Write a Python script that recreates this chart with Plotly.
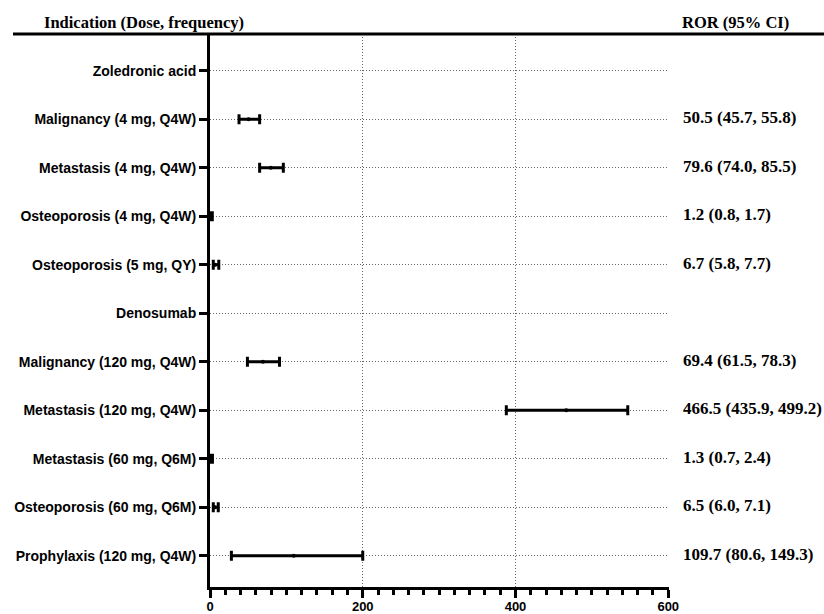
import plotly.graph_objects as go

# ---------------- data ----------------
categories = [
    "Zoledronic acid",
    "Malignancy (4 mg, Q4W)",
    "Metastasis (4 mg, Q4W)",
    "Osteoporosis (4 mg, Q4W)",
    "Osteoporosis (5 mg, QY)",
    "Denosumab",
    "Malignancy (120 mg, Q4W)",
    "Metastasis (120 mg, Q4W)",
    "Metastasis (60 mg, Q6M)",
    "Osteoporosis (60 mg, Q6M)",
    "Prophylaxis (120 mg, Q4W)",
]
ror = [None, 50.5, 79.6, 1.2, 6.7, None, 69.4, 466.5, 1.3, 6.5, 109.7]
bar_low = [None, 38.0, 65.0, 0.3, 4.3, None, 49.0, 388.0, 0.4, 4.3, 28.0]
bar_high = [None, 65.0, 96.0, 3.0, 11.5, None, 91.0, 547.0, 3.2, 10.8, 200.0]
ror_text = [
    "",
    "50.5 (45.7, 55.8)",
    "79.6 (74.0, 85.5)",
    "1.2 (0.8, 1.7)",
    "6.7 (5.8, 7.7)",
    "",
    "69.4 (61.5, 78.3)",
    "466.5 (435.9, 499.2)",
    "1.3 (0.7, 2.4)",
    "6.5 (6.0, 7.1)",
    "109.7 (80.6, 149.3)",
]
headers = ["Indication (Dose, frequency)", "ROR (95% CI)"]
x_ticks = [0, 200, 400, 600]

# ---------------- figure ----------------
W, H = 824, 614
PL, PR, PT, PB = 210, 669, 34, 587   # plot-area edges in pixels
Y_RANGE = [10.645, -0.757]

idx = list(range(len(categories)))
xs, ys, ep, em = [], [], [], []
for i, v, lo, hi in zip(idx, ror, bar_low, bar_high):
    if v is None:
        continue
    xs.append(v)
    ys.append(i)
    ep.append(hi - v)
    em.append(v - lo)

serif = "Liberation Serif, Times New Roman, serif"
sans = "Liberation Sans, Arial, sans-serif"
grid_col = "#666666"
grid_dash = "1px,2px"
hfont = dict(family=serif, size=16.5, color="black", weight="bold")
vfont = dict(family=serif, size=17, color="black", weight="bold")

fig = go.Figure()
fig.add_trace(go.Scatter(
    x=xs, y=ys, mode="markers",
    marker=dict(color="black", size=4, symbol="circle"),
    error_x=dict(type="data", symmetric=False, array=ep, arrayminus=em,
                 color="black", thickness=3, width=5),
    showlegend=False, hoverinfo="skip",
))

# right-hand ROR (95% CI) column, aligned to the category rows
rt = [(i, t) for i, t in zip(idx, ror_text) if t]
fig.add_trace(go.Scatter(
    x=[683] * len(rt), y=[i for i, _ in rt], text=[t for _, t in rt],
    mode="text", textposition="middle right", textfont=vfont,
    xaxis="x2", yaxis="y3", cliponaxis=False,
    showlegend=False, hoverinfo="skip",
))

# column headers
fig.add_trace(go.Scatter(
    x=[44, 682], y=[24, 24], text=headers,
    mode="text", textposition="middle right", textfont=hfont,
    xaxis="x2", yaxis="y2", cliponaxis=False,
    showlegend=False, hoverinfo="skip",
))

ydom = [(H - PB) / H, (H - PT) / H]
fig.update_layout(
    width=W, height=H,
    margin=dict(l=0, r=0, t=0, b=0, pad=0, autoexpand=False),
    paper_bgcolor="white", plot_bgcolor="rgba(0,0,0,0)",
    xaxis=dict(
        domain=[PL / W, PR / W], anchor="y",
        range=[0, 601], tickvals=x_ticks, ticktext=[str(t) for t in x_ticks],
        showline=True, linecolor="black", linewidth=3,
        ticks="outside", ticklen=8, tickwidth=3, tickcolor="black",
        ticklabelstandoff=-3,
        tickfont=dict(family=sans, size=13, color="black", weight="bold"),
        showgrid=True, gridcolor=grid_col, griddash=grid_dash, gridwidth=1,
        zeroline=False, automargin=False,
        minor=dict(dtick=20, tick0=0, ticks="outside", ticklen=5, tickwidth=2.5,
                   tickcolor="black", showgrid=False),
        fixedrange=True,
    ),
    yaxis=dict(
        domain=ydom, anchor="x",
        range=Y_RANGE, tickvals=idx, ticktext=categories,
        showline=True, linecolor="black", linewidth=3,
        ticks="outside", ticklen=8, tickwidth=3, tickcolor="black",
        tickfont=dict(family=sans, size=14, color="black", weight="bold"),
        showgrid=True, gridcolor=grid_col, griddash=grid_dash, gridwidth=1,
        zeroline=False, automargin=False, fixedrange=True,
    ),
    xaxis2=dict(domain=[0, 1], range=[0, W], anchor="y2", visible=False,
                showgrid=False, fixedrange=True),
    yaxis2=dict(domain=[0, 1], range=[H, 0], anchor="x2", visible=False,
                showgrid=False, fixedrange=True),
    yaxis3=dict(domain=ydom, range=Y_RANGE, anchor="x2", visible=False,
                showgrid=False, fixedrange=True),
)

# header rule across the top
fig.add_shape(type="line", xref="paper", yref="paper",
              x0=13 / W, x1=1, y0=(H - PT) / H, y1=(H - PT) / H,
              line=dict(color="black", width=3))

fig.write_html("out.html")
